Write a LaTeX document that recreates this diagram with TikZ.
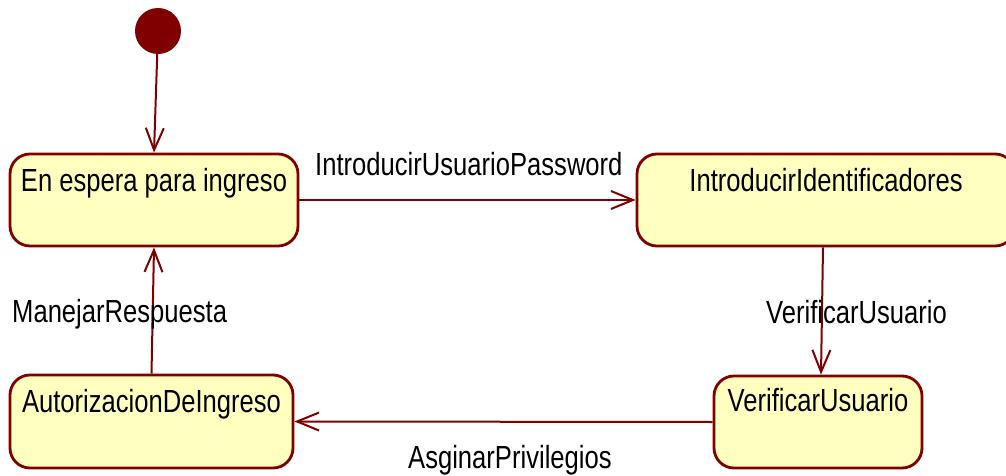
\documentclass[tikz,border=0pt]{standalone}
\usepackage{fontspec}
\setmainfont{Liberation Sans}[FakeStretch=0.8]
\usetikzlibrary{arrows.meta}
\definecolor{umlborder}{RGB}{128,0,0}
\definecolor{umlfill}{RGB}{255,255,192}
\tikzset{
  statebox/.style={draw=umlborder, fill=umlfill, line width=2.8pt, rounded corners=20pt,
    inner sep=0pt, anchor=base, font=\fontsize{32}{36}\selectfont},
  trans/.style={draw=umlborder, line width=2pt, -{Straight Barb[length=22pt,width=18pt]}},
  lbl/.style={inner sep=0pt, anchor=base west, font=\fontsize{32}{36}\selectfont},
}
\begin{document}
\begin{tikzpicture}[x=1pt,y=-1pt]
\useasboundingbox (0,0) rectangle (1006,476);
\node[circle, fill=umlborder, minimum size=46pt, inner sep=0pt] (init) at (158,31) {};
\node[statebox, minimum width=288pt, text height=37pt, text depth=55pt] (b1) at (154,191) {En espera para ingreso};
\node[statebox, minimum width=378pt, text height=37pt, text depth=55pt] (b2) at (826,191) {IntroducirIdentificadores};
\node[statebox, minimum width=208pt, text height=35pt, text depth=57pt] (b3) at (818,411) {VerificarUsuario};
\node[statebox, minimum width=283pt, text height=37pt, text depth=56pt] (b4) at (151.5,412) {AutorizacionDeIngreso};

\draw[trans] (init) -- (b1.north);
\draw[trans] (b1.east) -- (b2.west);
\draw[trans] ([xshift=-3pt]b2.south) -- ([xshift=3pt]b3.north);
\draw[trans] (b3.west) -- (b4.east);
\draw[trans] (b4.north) -- (b1.south);

\node[lbl] (l1) at (315,175) {IntroducirUsuarioPassword};
\node[lbl] (l2) at (766,323) {VerificarUsuario};
\node[lbl] (l3) at (408,468) {AsginarPrivilegios};
\node[lbl] (l4) at (12,322) {ManejarRespuesta};
\end{tikzpicture}
\end{document}
